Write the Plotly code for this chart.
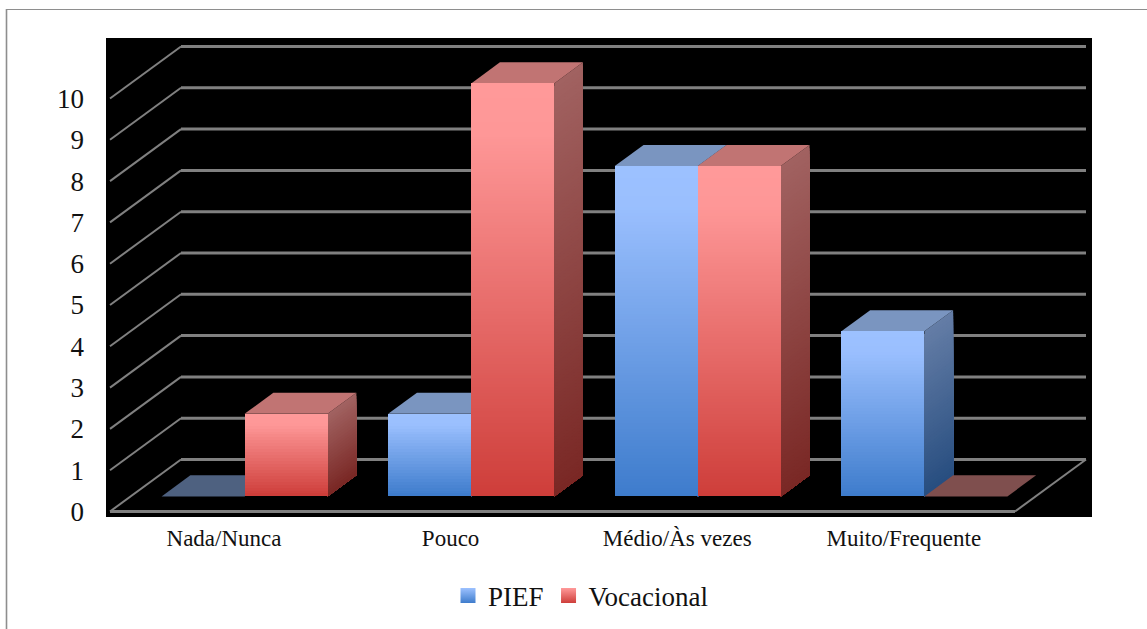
import plotly.graph_objects as go

categories = ["Nada/Nunca", "Pouco", "Médio/Às vezes", "Muito/Frequente"]
pief = [0, 2, 8, 4]
vocacional = [2, 10, 8, 0]
y_ticks = list(range(0, 11))

W, H = 1147, 629
L, R, T, B = 106, 1092, 38, 517
X0, XPX = 224.0, 226.6      # px of category 0 on the front plane, px per category
Y0, YPX = 511.5, 41.3       # px of value 0 on the front plane, px per value
DX, DY = 71 / XPX, 52 / YPX # projection of the full floor depth
BAR_W = 83 / XPX
D0, D1 = 0.29, 0.695        # bar front / back depth
GRID_L, GRID_R = (110 - X0) / XPX, (1015 - X0) / XPX


def mix(a, b, t):
    return "rgb(%d,%d,%d)" % tuple(round(a[i] + (b[i] - a[i]) * t) for i in range(3))


def ramp(stops, t):
    for (t0, c0), (t1, c1) in zip(stops, stops[1:]):
        if t <= t1:
            return mix(c0, c1, (t - t0) / (t1 - t0) if t1 > t0 else 0)
    return mix(stops[-1][1], stops[-1][1], 0)


STYLE = {
    "PIEF": dict(
        front=[(0, (156, 193, 255)), (0.12, (154, 191, 254)), (1, (62, 124, 204))],
        side=[(0, (100, 125, 166)), (1, (40, 78, 128))],
        top="#7A95C0", flat="#4E6180", left=-1,
    ),
    "Vocacional": dict(
        front=[(0, (255, 153, 153)), (0.12, (254, 151, 151)), (1, (206, 62, 58))],
        side=[(0, (161, 98, 97)), (1, (122, 40, 37))],
        top="#C17473", flat="#7F4F4E", left=0,
    ),
}


def path(points):
    return "M " + " L ".join(f"{x:.5f} {y:.5f}" for x, y in points) + " Z"


def line_path(points):
    return "M " + " L ".join(f"{x:.5f} {y:.5f}" for x, y in points)


GRID = "#808080"
shapes = []
# gridlines: receding wall diagonal, then back-wall line
for v in y_ticks:
    shapes.append(dict(type="path", path=line_path([(GRID_L, v), (GRID_L + DX, v + DY)]),
                       xref="x", yref="y", layer="below", line=dict(color=GRID, width=2)))
    shapes.append(dict(type="path", path=line_path([(GRID_L + DX, v + DY), (GRID_R + DX, v + DY)]),
                       xref="x", yref="y", layer="below", line=dict(color=GRID, width=3)))
shapes.append(dict(type="path", path=line_path([(GRID_L, 0), (GRID_R, 0)]),
                   xref="x", yref="y", layer="below", line=dict(color=GRID, width=3)))
shapes.append(dict(type="path", path=line_path([(GRID_R, 0), (GRID_R + DX, DY)]),
                   xref="x", yref="y", layer="below", line=dict(color=GRID, width=2)))

traces = []
for i in range(len(categories)):
    for name, vals in (("PIEF", pief), ("Vocacional", vocacional)):
        st = STYLE[name]
        v = vals[i]
        x1 = i + D0 * DX + st["left"] * BAR_W
        x2 = x1 + BAR_W
        yb = D0 * DY
        bx, by = (D1 - D0) * DX, (D1 - D0) * DY
        if v == 0:
            shapes.append(dict(type="path", layer="below", xref="x", yref="y",
                               path=path([(x1, yb), (x2, yb), (x2 + bx, yb + by), (x1 + bx, yb + by)]),
                               fillcolor=st["flat"], line=dict(width=0)))
            continue
        n = v * 14
        for k in range(n):
            t = k / (n - 1)
            ytop = yb + v * (1 - k / n)
            shapes.append(dict(type="path", layer="below", xref="x", yref="y",
                               path=path([(x2, ytop), (x2 + bx, ytop + by), (x2 + bx, yb + by), (x2, yb)]),
                               fillcolor=ramp(st["side"], t), line=dict(width=0)))
        ytop = yb + v
        shapes.append(dict(type="path", layer="below", xref="x", yref="y",
                           path=path([(x1, ytop), (x2, ytop), (x2 + bx, ytop + by), (x1 + bx, ytop + by)]),
                           fillcolor=st["top"], line=dict(width=0)))


def front_trace(name, vals):
    st = STYLE[name]
    xs, bases, heights, colors = [], [], [], []
    for i, v in enumerate(vals):
        n = v * 14
        for k in range(n):
            xs.append(i + D0 * DX + (st["left"] + 0.5) * BAR_W)
            bases.append(D0 * DY + v * (1 - (k + 1) / n))
            heights.append(v / n)
            colors.append(ramp(st["front"], k / max(n - 1, 1)))
    return go.Bar(x=xs, y=heights, base=bases, width=BAR_W, name=name, showlegend=False,
                  marker=dict(color=colors, line=dict(width=0)), hoverinfo="skip")


traces.append(front_trace("PIEF", pief))
traces.append(front_trace("Vocacional", vocacional))

# legend entries with gradient swatches
for name in ("PIEF", "Vocacional"):
    st = STYLE[name]
    traces.append(go.Scatter(
        x=[None], y=[None], mode="markers", name=name, showlegend=True,
        marker=dict(symbol="square", size=15, color=ramp(st["front"], 0),
                    gradient=dict(type="vertical", color=ramp(st["front"], 1)),
                    line=dict(width=0)),
    ))

# page frame
pw, ph = R - L, B - T
fx = lambda p: (p - L) / pw
fy = lambda p: (B - p) / ph
shapes.append(dict(type="line", xref="paper", yref="paper", x0=fx(6.5), x1=fx(W), y0=fy(9.5), y1=fy(9.5),
                   line=dict(color="#8E8E8E", width=1.2)))
shapes.append(dict(type="line", xref="paper", yref="paper", x0=fx(6.5), x1=fx(6.5), y0=fy(9), y1=fy(H),
                   line=dict(color="#8E8E8E", width=1.6)))

fig = go.Figure(traces)
FONT = "Liberation Serif"
fig.update_layout(
    width=W, height=H, autosize=False,
    margin=dict(l=L, r=W - R, t=T, b=H - B, pad=0, autoexpand=False),
    paper_bgcolor="white", plot_bgcolor="black",
    barmode="overlay", bargap=0,
    shapes=shapes,
    font=dict(family=FONT, color="#111111"),
    legend=dict(orientation="h", x=fx(448), xanchor="left", y=fy(596), yanchor="middle",
                font=dict(size=27, family=FONT), bgcolor="rgba(0,0,0,0)",
                itemsizing="trace", traceorder="normal"),
    xaxis=dict(range=[(L - X0) / XPX, (R - X0) / XPX], tickvals=list(range(len(categories))),
               ticktext=categories, showgrid=False, zeroline=False, showline=False,
               tickfont=dict(size=23, family=FONT), ticks="", ticklabelstandoff=5),
    yaxis=dict(range=[(Y0 - B) / YPX, (Y0 - T) / YPX], tickvals=y_ticks,
               ticktext=[str(v) for v in y_ticks], showgrid=False, zeroline=False, showline=False,
               tickfont=dict(size=27, family=FONT), ticks="", ticklabelstandoff=21),
)
fig.write_html("out.html", config=dict(displayModeBar=False),
               post_script="document.body.style.margin='0';document.body.style.overflow='hidden';")
